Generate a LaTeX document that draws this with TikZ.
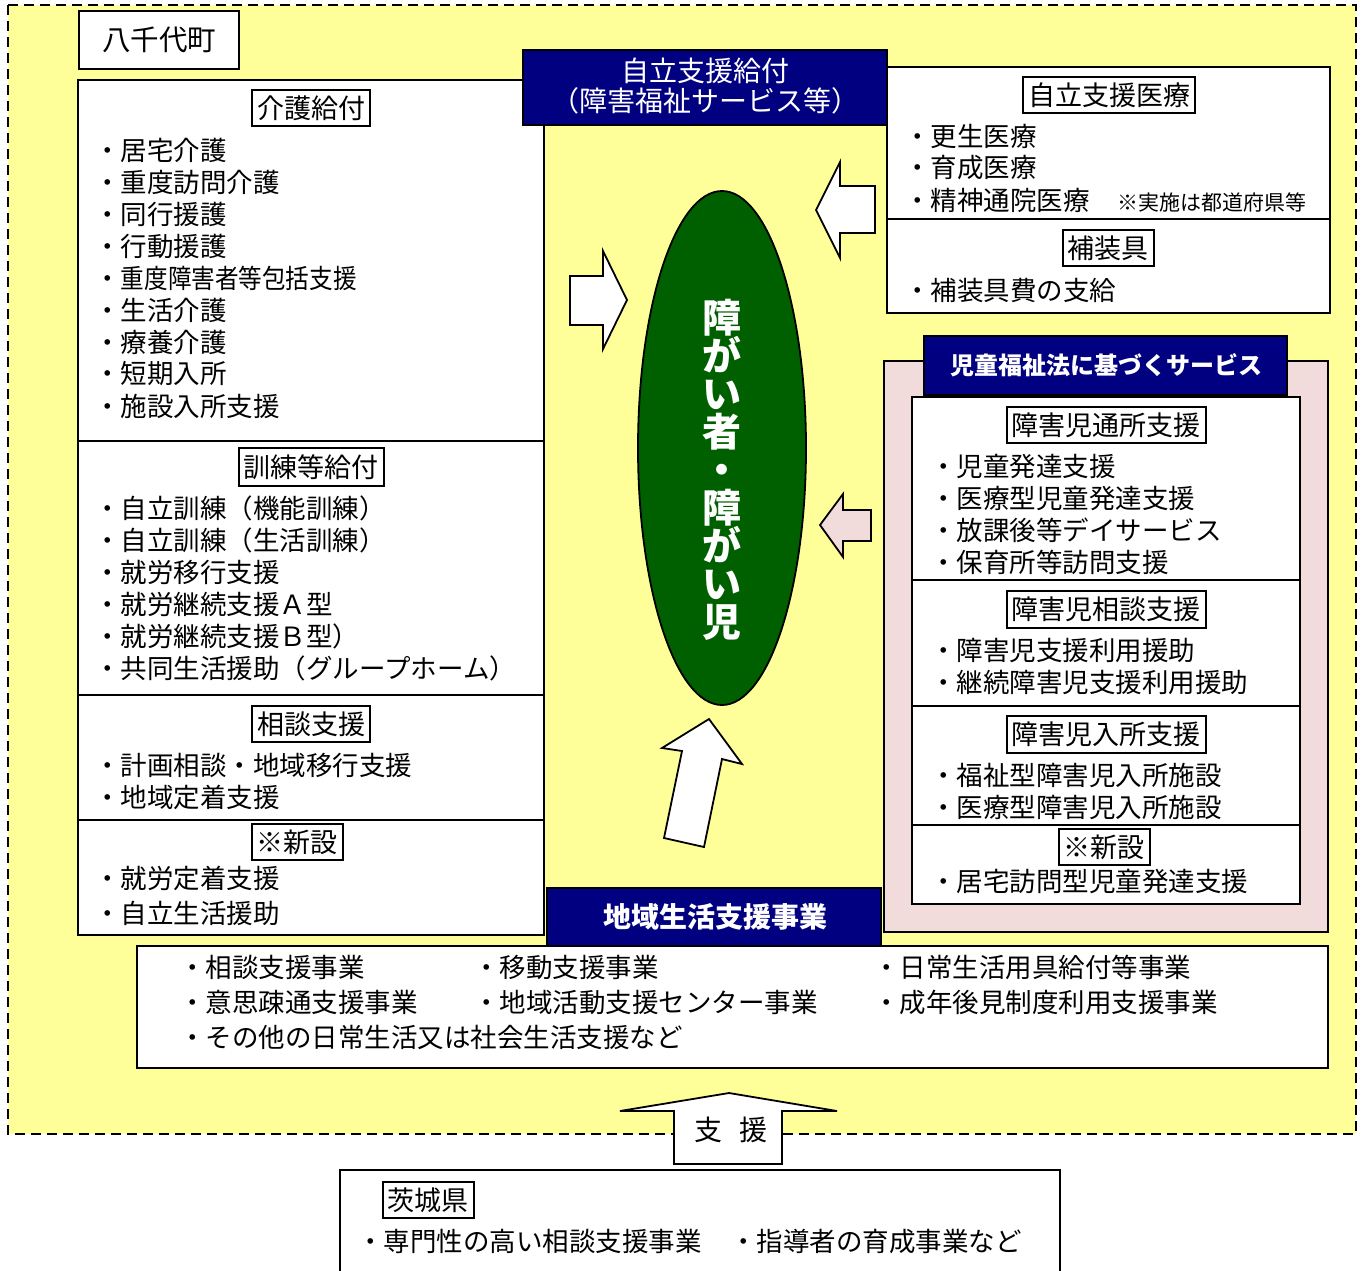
\documentclass[tikz,border=0pt]{standalone}
\usepackage{graphicx}
\usepackage{fontspec}
\setmainfont{Noto Sans CJK JP}
\definecolor{bgy}{RGB}{255,255,153}
\definecolor{navyc}{RGB}{0,0,128}
\definecolor{pinkc}{RGB}{242,220,219}
\definecolor{greenc}{RGB}{0,96,0}
\tikzset{
  box/.style={draw, line width=0.9pt, fill=white},
  divl/.style={line width=0.9pt},
  ttl/.style={draw, line width=1pt, fill=white, inner xsep=2.5pt, inner ysep=3pt, font=\fontsize{13.5}{14}\selectfont},
  item/.style={anchor=west, inner sep=0pt, font=\fontsize{13.25}{14}\selectfont},
  navybox/.style={draw, line width=1pt, fill=navyc},
  navytxt/.style={text=white, inner sep=0pt, align=center},
  arr/.style={draw, line width=0.9pt, line join=miter, fill=white},
}
\begin{document}
\begin{tikzpicture}[x=0.5pt,y=-0.5pt]
\useasboundingbox (0,0) rectangle (1364,1270);
\fill[white] (0,0) rectangle (1364,1270);
% municipality area
\draw[fill=bgy, line width=1pt, dash pattern=on 5pt off 3pt] (8,5) rectangle (1356,1134);
\draw[line width=1pt, fill=white] (79,11) rectangle (239,69);
\node[inner sep=0pt, font=\fontsize{14.25}{15}\selectfont] (town) at (159,40) {八千代町};

% left column
\draw[box] (78,80) rectangle (544,935);
\draw[divl] (78,441) -- (544,441);
\draw[divl] (78,695) -- (544,695);
\draw[divl] (78,820) -- (544,820);
\node[ttl] (kaigoT) at (311,108) {介護給付};
\foreach \t [count=\i from 0] in {居宅介護,重度訪問介護,同行援護,行動援護,\scalebox{0.89}[1]{重度障害者等包括支援},生活介護,療養介護,短期入所,施設入所支援}
  \node[item] (kaigo\i) at (94,{150+32*\i}) {・\t};
\node[ttl] (kunrenT) at (311,467) {訓練等給付};
\foreach \t [count=\i from 0] in {自立訓練（機能訓練）,自立訓練（生活訓練）,就労移行支援,就労継続支援Ａ型,就労継続支援Ｂ型）,共同生活援助（グループホーム）}
  \node[item] (kunren\i) at (94,{508+32*\i}) {・\t};
\node[ttl] (soudanT) at (311,724) {相談支援};
\node[item] (soudan0) at (94,765) {・計画相談・地域移行支援};
\node[item] (soudan1) at (94,797) {・地域定着支援};
\node[ttl] (shinL) at (297,842) {※新設};
\node[item] (shinL0) at (94,878) {・就労定着支援};
\node[item] (shinL1) at (94,913) {・自立生活援助};

% right top box
\draw[box] (887,67) rectangle (1330,313);
\draw[divl] (887,219) -- (1330,219);
\node[ttl] (iryoT) at (1109,95) {自立支援医療};
\node[item] (iryo0) at (904,136) {・更生医療};
\node[item] (iryo1) at (904,168) {・育成医療};
\node[item] (iryo2) at (904,200) {・精神通院医療};
\node[anchor=west, inner sep=0pt, font=\fontsize{10.5}{11}\selectfont] (note) at (1117,202) {※実施は都道府県等};
\node[ttl] (hosoT) at (1108,248) {補装具};
\node[item] (hoso0) at (904,290) {・補装具費の支給};

% navy header top
\draw[navybox] (523,50) rectangle (887,125);
\node[navytxt, font=\fontsize{14}{15}\selectfont] (jiritsu) at (705,86) {自立支援給付\\（障害福祉サービス等）};

% child welfare frame
\draw[line width=0.9pt, fill=pinkc] (884,361) rectangle (1328,932);
\draw[navybox] (924,336) rectangle (1287,395);
\node[navytxt, font=\bfseries\fontsize{12}{13}\selectfont] (jidoH) at (1106,365) {児童福祉法に基づくサービス};
\draw[box] (912,397) rectangle (1300,904);
\draw[divl] (912,580) -- (1300,580);
\draw[divl] (912,706) -- (1300,706);
\draw[divl] (912,825) -- (1300,825);
\node[ttl] (tsushoT) at (1106,425) {障害児通所支援};
\foreach \t [count=\i from 0] in {児童発達支援,医療型児童発達支援,放課後等デイサービス,保育所等訪問支援}
  \node[item] (tsusho\i) at (930,{466+32*\i}) {・\t};
\node[ttl] (jsoudanT) at (1106,609) {障害児相談支援};
\node[item] (jsoudan0) at (930,650) {・障害児支援利用援助};
\node[item] (jsoudan1) at (930,682) {・継続障害児支援利用援助};
\node[ttl] (nyushoT) at (1106,734) {障害児入所支援};
\node[item] (nyusho0) at (930,775) {・福祉型障害児入所施設};
\node[item] (nyusho1) at (930,807) {・医療型障害児入所施設};
\node[ttl] (shinR) at (1104,847) {※新設};
\node[item] (shinR0) at (930,881) {・居宅訪問型児童発達支援};

% center ellipse
\draw[line width=0.9pt, fill=greenc] (722,448) ellipse [x radius=42pt, y radius=128.5pt];
\node[navytxt, font=\bfseries\fontsize{19.5}{19}\selectfont] (person) at (722,470) {障\\が\\い\\者\\・\\障\\が\\い\\児};

% block arrows
\draw[arr] (570,276) -- (603,276) -- (603,251) -- (627,300) -- (603,349) -- (603,325) -- (570,325) -- cycle;
\draw[arr] (875,186) -- (840,186) -- (840,162) -- (816,210) -- (840,258) -- (840,233) -- (875,233) -- cycle;
\draw[arr, fill=pinkc] (871,510) -- (843,510) -- (843,494) -- (820,525) -- (843,557) -- (843,541) -- (871,541) -- cycle;
\draw[arr] (704,847) -- (664,838) -- (682,751) -- (662,748) -- (709,719) -- (742,764) -- (722,759) -- cycle;

% community life support
\draw[box] (137,946) rectangle (1328,1068);
\draw[navybox] (547,888) rectangle (881,946);
\node[navytxt, font=\bfseries\fontsize{14}{15}\selectfont] (chiikiH) at (715,917) {地域生活支援事業};
\node[item] (c1) at (179,967) {・相談支援事業};
\node[item] (c2) at (473,967) {・移動支援事業};
\node[item] (c3) at (873,967) {・日常生活用具給付等事業};
\node[item] (c4) at (179,1002) {・意思疎通支援事業};
\node[item] (c5) at (473,1002) {・地域活動支援センター事業};
\node[item] (c6) at (873,1002) {・成年後見制度利用支援事業};
\node[item] (c7) at (179,1037) {・その他の日常生活又は社会生活支援など};

% support arrow
\draw[arr] (674,1164) -- (674,1111) -- (620,1111) -- (729,1093) -- (837,1111) -- (782,1111) -- (782,1164) -- cycle;
\node[inner sep=0pt, font=\fontsize{14}{15}\selectfont] (shien) at (731,1130) {支\hspace{0.6em}援};

% prefecture
\draw[line width=0.9pt, fill=white] (340,1271) -- (340,1170) -- (1060,1170) -- (1060,1271);
\node[ttl] (ibaT) at (428,1200) {茨城県};
\node[item] (iba0) at (357,1241) {・専門性の高い相談支援事業};
\node[item] (iba1) at (730,1241) {・指導者の育成事業など};
\end{tikzpicture}
\end{document}
